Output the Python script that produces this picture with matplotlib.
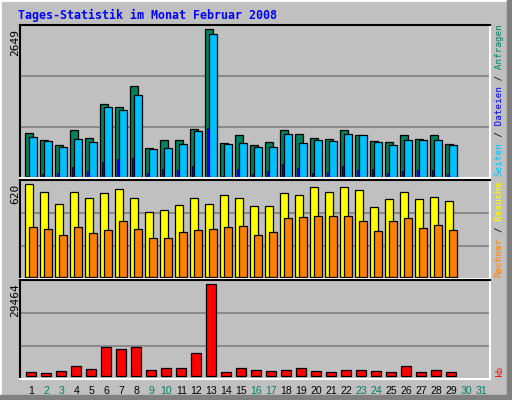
import matplotlib
matplotlib.use("Agg")
import matplotlib.pyplot as plt
from matplotlib.patches import Rectangle
import numpy as np

days = list(range(1, 30))
all_days = list(range(1, 32))
weekend = [2, 3, 9, 10, 16, 17, 23, 24, 30, 31]
hits = [775, 667, 577, 829, 703, 1297, 1243, 1622, 523, 667, 667, 847, 2649, 613, 739,
        577, 631, 829, 757, 703, 685, 829, 739, 649, 631, 739, 685, 739, 595]
files = [721, 649, 541, 685, 631, 1243, 1189, 1460, 505, 523, 595, 811, 2559, 595, 613,
         541, 541, 757, 613, 667, 649, 757, 739, 631, 577, 667, 667, 667, 577]
pages = [20, 50, 70, 180, 110, 270, 310, 330, 70, 145, 125, 200, 880, 20, 145,
         50, 110, 235, 165, 70, 90, 200, 125, 145, 70, 100, 125, 125, 50]
visits = [620, 567, 486, 567, 526, 560, 587, 526, 432, 446, 479, 526, 486, 547, 526,
          473, 473, 560, 547, 600, 567, 600, 580, 466, 520, 567, 520, 533, 506]
sites = [332, 318, 278, 332, 291, 311, 372, 318, 258, 258, 298, 311, 318, 332, 338,
         278, 298, 392, 399, 405, 405, 405, 372, 305, 372, 392, 325, 345, 311]
kbytes = [1080, 750, 1400, 3010, 2040, 9140, 8490, 9140, 1720, 2360, 2360, 7200, 29464, 1080, 2360,
          1720, 1400, 1720, 2360, 1400, 1080, 1720, 1720, 1400, 1080, 3010, 1080, 1720, 1080]

W, H = 512, 400
BG = "#c0c0c0"
GREEN, CYAN, BLUE = "#00805c", "#00c0ff", "#0000ff"
YEL, ORA, RED = "#ffff00", "#ff8000", "#ff0000"
fig = plt.figure(figsize=(W / 100, H / 100), dpi=100, facecolor=BG)

def fx(x): return x / W
def fy(y): return 1 - y / H

# frame
fig.patches.append(Rectangle((0, 0), 1, 1, transform=fig.transFigure, facecolor="none",
                             edgecolor="white", linewidth=2))
fig.patches.append(Rectangle((fx(507), 0), fx(5), 1, transform=fig.transFigure, color="#808080"))
fig.patches.append(Rectangle((0, 0), 1, 5 / H, transform=fig.transFigure, color="#808080"))

def mkax(y0, y1):
    ax = fig.add_axes([fx(20), fy(y1), fx(470), (y1 - y0) / H])
    ax.set_facecolor(BG)
    ax.set_xlim(20, 490)
    ax.set_xticks([]); ax.set_yticks([])
    for s in ("top", "left"):
        ax.spines[s].set_color("black")
    for s in ("bottom", "right"):
        ax.spines[s].set_color("white")
    for sp in ax.spines.values():
        sp.set_linewidth(1.5)
    for f in (1 / 3, 2 / 3):
        ax.plot([0, 1], [f, f], transform=ax.transAxes, color="#808080", lw=1.2, zorder=0)
    return ax

d = np.array(days)
x0 = 25 + (d - 1) * 15
lw = 0.9

ax1 = mkax(25, 178)
ax1.set_ylim(-23, 2720)
ax1.bar(x0, hits, width=8, align="edge", color=GREEN, edgecolor="black", lw=lw)
ax1.bar(x0 + 4, files, width=8, align="edge", color=CYAN, edgecolor="black", lw=lw)
ax1.bar(x0 + 2, pages, width=2, align="edge", color=BLUE, edgecolor="black", lw=0.5)

ax2 = mkax(180, 279)
ax2.set_ylim(-15, 649)
ax2.bar(x0, visits, width=8, align="edge", color=YEL, edgecolor="black", lw=lw)
ax2.bar(x0 + 4, sites, width=8, align="edge", color=ORA, edgecolor="black", lw=lw)

ax3 = mkax(280, 379)
ax3.set_ylim(-1065, 30851)
ax3.bar(x0 + 1, kbytes, width=10, align="edge", color=RED, edgecolor="black", lw=lw)
ad = np.array(all_days)
ax3.set_xticks(26 + (ad - 1) * 15 + 5.5)
ax3.set_xticklabels([str(v) for v in all_days], fontsize=7.6, family="Liberation Sans")
ax3.tick_params(axis="x", length=0, pad=5)
for lab, v in zip(ax3.get_xticklabels(), all_days):
    lab.set_color(GREEN if v in weekend else "black")

mono = "DejaVu Sans Mono"
fig.text(fx(18), fy(15), "Tages-Statistik im Monat Februar 2008", color=BLUE,
         family=mono, weight="bold", fontsize=8.4, va="center", ha="left")

for txt, ytop in (("2649", 29), ("620", 184), ("29464", 283)):
    fig.text(fx(15), fy(ytop), txt, rotation=90, family=mono, fontsize=8,
             ha="center", va="top", color="black")

def rlabel(parts, ybottom):
    s = 0
    for t, c in parts:
        fig.text(fx(499), fy(ybottom), " " * s + t, rotation=90, rotation_mode="anchor",
                 family=mono, fontsize=6.7, ha="left", va="center", color=c)
        s += len(t)

rlabel([("Seiten", CYAN), (" / ", "black"), ("Dateien", BLUE), (" / ", "black"),
        ("Anfragen", GREEN)], 176)
rlabel([("Rechner", ORA), (" / ", "black"), ("Besuche", YEL)], 277)
rlabel([("kb", RED)], 376)

fig.savefig("out.png", dpi=100, facecolor=BG)
